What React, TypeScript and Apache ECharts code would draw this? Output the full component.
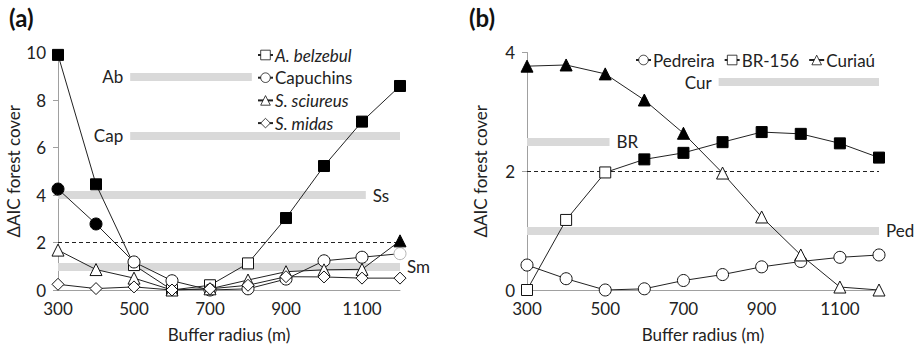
import React, { useEffect, useRef } from "react";
import * as echarts from "echarts";

const radius = [300, 400, 500, 600, 700, 800, 900, 1000, 1100, 1200];

// Panel (a)
const abValues = [9.9, 4.45, 1.05, 0.0, 0.2, 1.12, 3.03, 5.22, 7.09, 8.59];
const abFilled = [1, 1, 0, 0, 0, 0, 1, 1, 1, 1];
const capValues = [4.25, 2.78, 1.18, 0.39, 0.0, 0.05, 0.46, 1.23, 1.38, 1.53];
const capFilled = [1, 1, 0, 0, 0, 0, 0, 0, 0, 0];
const ssValues = [1.68, 0.86, 0.5, 0.0, 0.05, 0.42, 0.77, 0.85, 0.87, 2.07];
const ssFilled = [0, 0, 0, 0, 0, 0, 0, 0, 0, 1];
const smValues = [0.24, 0.06, 0.13, 0.0, 0.05, 0.2, 0.56, 0.55, 0.5, 0.5];
const smFilled = [0, 0, 0, 0, 0, 0, 0, 0, 0, 0];

// Panel (b)
const pedValues = [0.42, 0.19, 0.0, 0.02, 0.16, 0.26, 0.39, 0.48, 0.55, 0.59];
const pedFilled = [0, 0, 0, 0, 0, 0, 0, 0, 0, 0];
const brValues = [0.0, 1.18, 1.98, 2.2, 2.31, 2.49, 2.66, 2.63, 2.47, 2.23];
const brFilled = [0, 0, 0, 1, 1, 1, 1, 1, 1, 1];
const curValues = [3.77, 3.79, 3.64, 3.2, 2.64, 1.97, 1.23, 0.59, 0.05, 0.0];
const curFilled = [1, 1, 1, 1, 1, 0, 0, 0, 0, 0];

// Range bands: [label, y, xStart, xEnd, labelSide]
const bandsA: [string, number, number, number, string][] = [
  ["Ab", 9, 490, 810, "start"],
  ["Cap", 6.5, 490, 1200, "start"],
  ["Ss", 4, 300, 1110, "end"],
  ["Sm", 1, 300, 1200, "end"],
];
const bandsB: [string, number, number, number, string][] = [
  ["Cur", 3.5, 790, 1200, "start"],
  ["BR", 2.5, 300, 511, "end"],
  ["Ped", 1, 300, 1200, "end"],
];

const FONT = "Lato, 'Open Sans', sans-serif";
const FS = 17;
const TXT = "#222";
const AXIS = "#a0a0a0";

function buildData(values: number[], filled: number[], grayLast = false) {
  return values.map((v, i) => {
    const item: any = { value: [radius[i], v] };
    if (filled[i]) item.itemStyle = { color: "#000", borderColor: "#000" };
    if (grayLast && i === values.length - 1)
      item.itemStyle = { color: "#fff", borderColor: "#b5b5b5" };
    return item;
  });
}

function dataSeries(
  name: string,
  symbol: string,
  size: number,
  values: number[],
  filled: number[],
  axis: number,
  grayLast = false
) {
  return {
    type: "line",
    name,
    xAxisIndex: axis,
    yAxisIndex: axis,
    symbol,
    symbolSize: size,
    z: 5,
    lineStyle: { color: "#222", width: 1 },
    itemStyle: { color: "#fff", borderColor: "#111", borderWidth: 1 },
    data: buildData(values, filled, grayLast),
  };
}

function bandSeries(bands: [string, number, number, number, string][], axis: number) {
  return {
    type: "line",
    xAxisIndex: axis,
    yAxisIndex: axis,
    data: [],
    z: 1,
    silent: true,
    markLine: {
      silent: true,
      symbol: "none",
      animation: false,
      data: [
        ...bands.map(([label, y, x0, x1, side]) => [
          {
            coord: [x0, y],
            lineStyle: { color: "#d9d9d9", width: 8, type: "solid" },
            label: {
              show: true,
              position: side,
              formatter: label,
              fontSize: FS,
              fontFamily: FONT,
              color: TXT,
              distance: 7,
            },
          },
          { coord: [x1, y] },
        ]),
        {
          yAxis: 2,
          lineStyle: { color: "#222", width: 1, type: [4, 3] },
          label: { show: false },
        },
      ],
    },
  };
}

function xAxis(grid: number) {
  return {
    type: "value",
    gridIndex: grid,
    min: 300,
    max: 1200,
    interval: 100,
    name: "Buffer radius (m)",
    nameLocation: "middle",
    nameGap: 36,
    nameTextStyle: { fontSize: FS, fontFamily: FONT, color: TXT },
    axisLine: { show: true, lineStyle: { color: AXIS, width: 1 } },
    axisTick: { show: false },
    splitLine: { show: false },
    axisLabel: {
      fontSize: FS,
      fontFamily: FONT,
      color: TXT,
      margin: 10,
      formatter: (v: number) => ((v - 300) % 200 === 0 && v < 1200 ? String(v) : ""),
    },
  };
}

function yAxis(grid: number, max: number, gap: number) {
  return {
    type: "value",
    gridIndex: grid,
    min: 0,
    max,
    interval: 2,
    name: "ΔAIC forest cover",
    nameLocation: "middle",
    nameGap: gap,
    nameTextStyle: { fontSize: FS, fontFamily: FONT, color: TXT },
    axisLine: { show: true, lineStyle: { color: AXIS, width: 1 } },
    axisTick: { show: true, length: 5, inside: false, lineStyle: { color: AXIS } },
    splitLine: { show: false },
    axisLabel: { fontSize: FS, fontFamily: FONT, color: TXT, margin: 12 },
  };
}

export default function App() {
  const ref = useRef<HTMLDivElement>(null);
  useEffect(() => {
    if (!ref.current) return;
    const chart = echarts.init(ref.current, null, { renderer: "svg" });
    const italic = new Set(["A. belzebul", "S. sciureus", "S. midas"]);
    chart.setOption({
      animation: false,
      backgroundColor: "#fff",
      title: [
        { text: "(a)", left: 4, top: 0, textStyle: { fontSize: 24, fontWeight: "bold", fontFamily: FONT, color: "#111" } },
        { text: "(b)", left: 464, top: 0, textStyle: { fontSize: 24, fontWeight: "bold", fontFamily: FONT, color: "#111" } },
      ],
      grid: [
        { left: 58, top: 52.5, width: 342, height: 237.5 },
        { left: 527, top: 52.5, width: 352, height: 237.5 },
      ],
      xAxis: [xAxis(0), xAxis(1)],
      yAxis: [yAxis(0, 10, 30), yAxis(1, 4, 38)],
      legend: [
        {
          orient: "vertical",
          left: 252,
          top: 41,
          itemWidth: 15,
          itemHeight: 12,
          itemGap: 4.7,
          itemStyle: { borderWidth: 0.8 },
          data: ["A. belzebul", "Capuchins", "S. sciureus", "S. midas"],
          textStyle: {
            fontSize: FS,
            fontFamily: FONT,
            color: TXT,
            lineHeight: 18,
            padding: [0, 0, 0, -3],
            rich: { i: { fontStyle: "italic", fontSize: FS, fontFamily: FONT, color: TXT } },
          },
          formatter: (n: string) => (italic.has(n) ? `{i|${n}}` : n),
        },
        {
          orient: "horizontal",
          left: 630,
          top: 46,
          itemWidth: 15,
          itemHeight: 12,
          itemGap: 9,
          itemStyle: { borderWidth: 0.8 },
          data: ["Pedreira", "BR-156", "Curiaú"],
          textStyle: { fontSize: FS, fontFamily: FONT, color: TXT, lineHeight: 18, padding: [0, 0, 0, -3] },
        },
      ],
      series: [
        bandSeries(bandsA, 0),
        bandSeries(bandsB, 1),
        dataSeries("A. belzebul", "rect", 11, abValues, abFilled, 0),
        dataSeries("Capuchins", "circle", 12, capValues, capFilled, 0, true),
        dataSeries("S. sciureus", "triangle", 12, ssValues, ssFilled, 0),
        dataSeries("S. midas", "diamond", 12, smValues, smFilled, 0),
        dataSeries("Pedreira", "circle", 12, pedValues, pedFilled, 1),
        dataSeries("BR-156", "rect", 11, brValues, brFilled, 1),
        dataSeries("Curiaú", "triangle", 12, curValues, curFilled, 1),
      ],
    });
    return () => chart.dispose();
  }, []);
  return (
    <div
      ref={ref}
      style={{ position: "fixed", left: 0, top: 0, width: 919, height: 350, background: "#fff" }}
    />
  );
}
